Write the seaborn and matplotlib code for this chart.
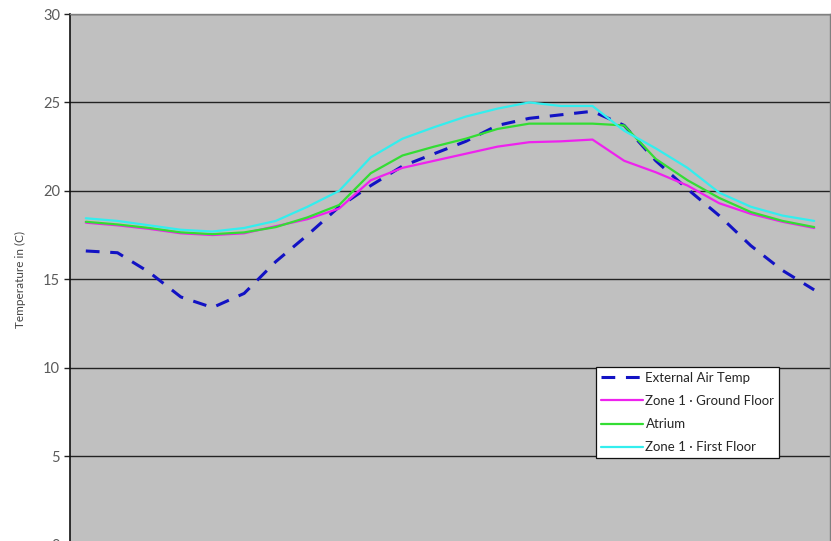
import matplotlib

matplotlib.use("Agg")

import matplotlib.pyplot as plt
import pandas as pd
import seaborn as sns


OUTPUT_FILE = "out.png"

HOURS = list(range(24))
EXTERNAL_AIR = [16.6, 16.5, 15.4, 14.0, 13.4, 14.2, 16.0, 17.5, 19.1, 20.3, 21.4, 22.1,
                22.8, 23.7, 24.1, 24.3, 24.5, 23.7, 21.7, 20.1, 18.6, 16.9, 15.5, 14.4]
ZONE1_GROUND = [18.2, 18.05, 17.85, 17.6, 17.5, 17.6, 18.0, 18.4, 19.0, 20.6, 21.3, 21.7,
                22.1, 22.5, 22.75, 22.8, 22.9, 21.7, 21.05, 20.3, 19.3, 18.7, 18.25, 17.9]
ATRIUM = [18.25, 18.1, 17.9, 17.65, 17.55, 17.65, 17.95, 18.5, 19.2, 21.0, 22.0, 22.5,
          22.95, 23.5, 23.8, 23.8, 23.8, 23.7, 21.8, 20.6, 19.6, 18.8, 18.3, 17.95]
ZONE1_FIRST = [18.45, 18.3, 18.05, 17.8, 17.7, 17.9, 18.3, 19.1, 20.0, 21.9, 22.95, 23.6,
               24.2, 24.65, 25.0, 24.8, 24.8, 23.4, 22.4, 21.3, 19.9, 19.1, 18.6, 18.3]

SERIES = {
    "External Air Temp": EXTERNAL_AIR,
    "Zone 1 - Ground Floor": ZONE1_GROUND,
    "Atrium": ATRIUM,
    "Zone 1 - First Floor": ZONE1_FIRST,
}
COLORS = {
    "External Air Temp": "#1212C4",
    "Zone 1 - Ground Floor": "#EE22EE",
    "Atrium": "#33DD33",
    "Zone 1 - First Floor": "#33EEEE",
}
LABELS = {
    "External Air Temp": "External Air Temp",
    "Zone 1 - Ground Floor": "Zone 1 \u00b7 Ground Floor",
    "Atrium": "Atrium",
    "Zone 1 - First Floor": "Zone 1 \u00b7 First Floor",
}


def build_frame() -> pd.DataFrame:
    frames = []
    for name, values in SERIES.items():
        frames.append(pd.DataFrame({"hour": HOURS, "temp": values, "series": name}))
    return pd.concat(frames, ignore_index=True)


def plot(df: pd.DataFrame) -> None:
    sns.set_style("white")
    plt.rcParams["font.family"] = ["Lato", "DejaVu Sans"]

    fig = plt.figure(figsize=(8.31, 5.41), dpi=100)
    ax = fig.add_axes([0.0842, -0.0065, 0.9146, 0.9806])
    ax.set_facecolor("#C0C0C0")

    for name in SERIES:
        sub = df[df["series"] == name]
        dashed = name == "External Air Temp"
        sns.lineplot(
            data=sub,
            x="hour",
            y="temp",
            ax=ax,
            color=COLORS[name],
            linewidth=2.2 if dashed else 1.6,
            linestyle=(0, (4.5, 3.5)) if dashed else "-",
            label=LABELS[name],
            zorder=3,
        )

    ax.set_xlim(-0.5, 23.5)
    ax.set_ylim(0, 30)
    ax.set_yticks(range(0, 31, 5))
    ax.set_xticks([])
    ax.yaxis.grid(True, color="#222222", linewidth=1.0)
    ax.set_axisbelow(True)

    ax.set_xlabel("")
    ax.set_ylabel("Temperature in (C)", fontsize=8.5, color="#444444", labelpad=12)
    ax.tick_params(axis="y", direction="out", length=4, width=1, color="#222222",
                   labelsize=10.5, labelcolor="#5a5a5a", pad=3, left=True)

    for side in ("top", "right", "bottom"):
        ax.spines[side].set_color("#808080")
        ax.spines[side].set_linewidth(1)
    ax.spines["left"].set_color("#111111")
    ax.spines["left"].set_linewidth(1.2)

    leg = ax.legend(
        loc="lower left",
        bbox_to_anchor=(596 / 831, (541 - 458) / 541),
        bbox_transform=fig.transFigure,
        fontsize=9.5,
        frameon=True,
        fancybox=False,
        framealpha=1,
        edgecolor="#111111",
        borderpad=0.35,
        labelspacing=0.85,
        handlelength=3.2,
        handletextpad=0.2,
        borderaxespad=0,
    )
    leg.get_frame().set_linewidth(0.9)

    fig.savefig(OUTPUT_FILE, dpi=100)
    plt.close(fig)


def main() -> None:
    df = build_frame()
    plot(df)


if __name__ == "__main__":
    main()
